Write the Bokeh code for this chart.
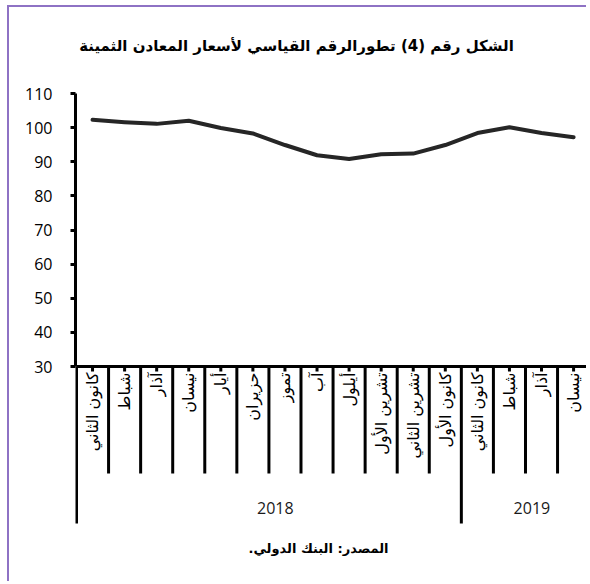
import math
from bokeh.plotting import figure
from bokeh.models import Range1d, FixedTicker
from bokeh.core.properties import value
from bokeh.embed import file_html
from bokeh.resources import INLINE

# ---------------- data ----------------
title_text = "الشكل رقم (4) تطورالرقم القياسي لأسعار المعادن الثمينة"
source_text = "المصدر: البنك الدولي.\u200f"
years = ["2018", "2019"]
months_2018 = ["كانون الثاني", "شباط", "آذار", "نيسان", "أيار", "حزيران",
               "تموز", "آب", "أيلول", "تشرين الأول", "تشرين الثاني", "كانون الأول"]
months_2019 = ["كانون الثاني", "شباط", "آذار", "نيسان"]
index_values = [102.3, 101.6, 101.1, 102.0, 99.9, 98.3, 94.9, 91.9,
                90.8, 92.2, 92.4, 94.9, 98.4, 100.1, 98.4, 97.2]
y_ticks = [30, 40, 50, 60, 70, 80, 90, 100, 110]

months = months_2018 + months_2019
group_sizes = [len(months_2018), len(months_2019)]
n = len(months)
xs = list(range(n))

# ---------------- layout (page pixels) ----------------
BX, BY = 7, 5            # element position on the page (border)
OX, OY = BX + 2, BY + 2  # canvas origin on the page
W, H = 579, 576
AXIS_X = 75              # y axis / frame left
CW = 32.07               # category width
X0 = 76                  # first category boundary
Y30 = 366                # page y of value 30
PU = 3.4125              # pixels per unit
RIGHT = OX + W
BOTTOM = OY + H


def px_to_x(P):
    return -0.5 + (P - X0) / CW


def py_to_y(Q):
    return 30 + (Y30 - Q) / PU


p = figure(width=W, height=H, output_backend="svg", toolbar_location=None,
           x_range=Range1d(px_to_x(AXIS_X), px_to_x(RIGHT)),
           y_range=Range1d(py_to_y(BOTTOM), py_to_y(OY)),
           x_axis_location=None,
           min_border_left=AXIS_X - OX, min_border_right=0,
           min_border_top=0, min_border_bottom=0)
p.styles = {"position": "absolute", "left": f"{BX}px", "top": f"{BY}px",
            "border-left": "2px solid #8e72c4", "border-top": "2px solid #8e72c4"}
p.grid.visible = False
p.outline_line_color = None
p.background_fill_color = "white"
p.border_fill_color = "white"

ax = p.yaxis[0]
ax.bounds = (30, 110)
ax.ticker = FixedTicker(ticks=y_ticks)
ax.axis_line_width = 3
ax.axis_line_color = "black"
ax.major_tick_line_width = 3
ax.major_tick_line_color = "black"
ax.major_tick_out = 5
ax.major_tick_in = 0
ax.minor_tick_line_color = None
ax.major_label_standoff = 18
ax.major_label_text_font = "Open Sans"
ax.major_label_text_font_size = "16px"
ax.major_label_text_color = "black"

# x axis line at 30
p.segment(x0=[-0.5], y0=[30], x1=[n - 0.5], y1=[30], line_width=3, line_color="black")

# category separators
group_bounds = [0]
for g in group_sizes:
    group_bounds.append(group_bounds[-1] + g)
sep_x, sep_y1 = [], []
for k in range(n + 1):
    sep_x.append(k - 0.5)
    sep_y1.append(py_to_y(523) if k in group_bounds else py_to_y(473))
p.segment(x0=sep_x, y0=[30] * len(sep_x), x1=sep_x, y1=sep_y1,
          line_width=3, line_color="black")

# small centre ticks
p.segment(x0=xs, y0=[30] * n, x1=xs, y1=[py_to_y(Y30 + 5)] * n,
          line_width=3, line_color="black")

# series line
p.line(xs, index_values, line_width=4, line_color="#262626",
       line_join="round", line_cap="round")

# month labels (rotated)
p.text(x=xs, y=[py_to_y(372)] * n, text=months, angle=math.pi / 2,
       text_align="right", text_baseline="middle",
       text_font=value("DejaVu Sans"), text_font_size="16px", text_color="black")

# year labels
year_x = []
for i in range(len(years)):
    year_x.append((group_bounds[i] + group_bounds[i + 1] - 1) / 2 + 0.2)
p.text(x=year_x, y=[py_to_y(507)] * len(years), text=years,
       text_align="center", text_baseline="middle",
       text_font=value("Open Sans"), text_font_size="16px", text_color="#1a1a1a")

# title and source
p.text(x=[px_to_x(296)], y=[py_to_y(45)], text=[title_text],
       text_align="center", text_baseline="middle",
       text_font=value("DejaVu Sans"), text_font_size="15px",
       text_font_style="bold", text_color="black")
p.text(x=[px_to_x(318)], y=[py_to_y(548)], text=[source_text],
       text_align="center", text_baseline="middle",
       text_font=value("DejaVu Sans"), text_font_size="13px",
       text_font_style="bold", text_color="black")

open("out.html", "w").write(file_html(p, INLINE))
